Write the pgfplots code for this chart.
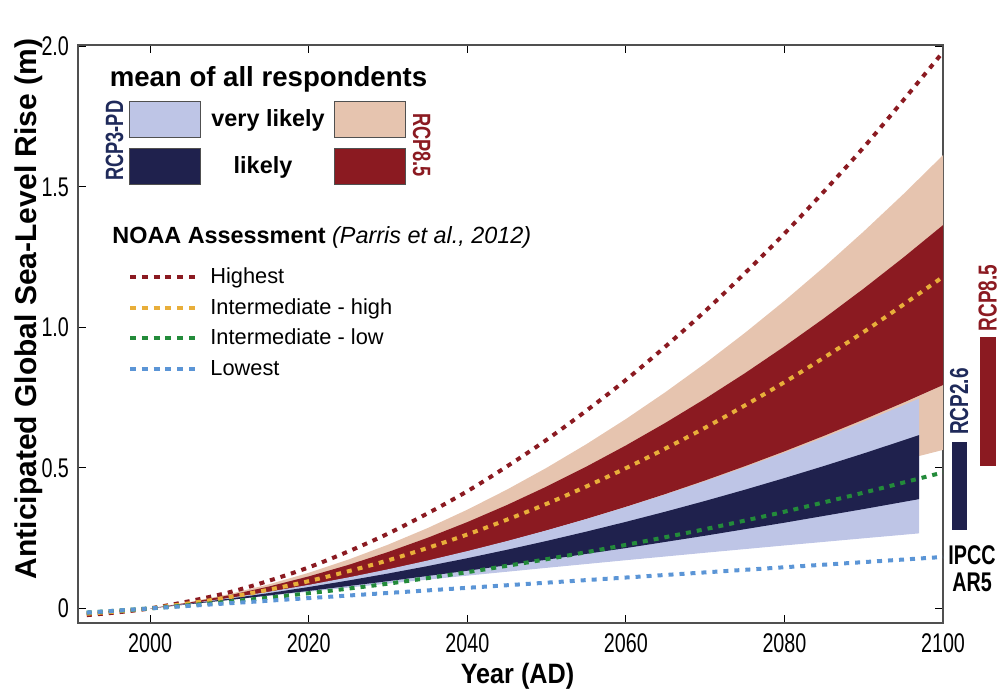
\documentclass[border=0pt]{standalone}
\usepackage{fontspec}
\setmainfont{Liberation Sans}
\newfontfamily\cond{Liberation Sans}[FakeStretch=0.73]
\newfontfamily\semicond{Liberation Sans}[FakeStretch=0.9]
\usepackage{pgfplots}
\pgfplotsset{compat=1.18}
\definecolor{lblue}{HTML}{BEC5E6}
\definecolor{navy}{HTML}{1F214D}
\definecolor{peach}{HTML}{E6C4AF}
\definecolor{dred}{HTML}{8B1A21}
\definecolor{hiC}{HTML}{8B1A21}
\definecolor{ihC}{HTML}{E8AE3A}
\definecolor{ilC}{HTML}{238B3A}
\definecolor{loC}{HTML}{5B95D6}
\definecolor{axC}{HTML}{505050}
\definecolor{navytxt}{HTML}{1F2A5A}
\begin{document}
\begin{tikzpicture}[x=1pt,y=1pt]
\useasboundingbox (-39,-36) rectangle (463,311.5);
\begin{axis}[at={(0,0)}, anchor=south west, scale only axis,
  width=432.5pt, height=289pt,
  xmin=1990.9, xmax=2100, ymin=-0.052, ymax=2.005, clip=false,
  xtick={2000,2020,2040,2060,2080,2100},
  xticklabels={2000,2020,2040,2060,2080,2100},
  ytick={0,0.5,1,1.5,2},
  yticklabels={0,0.5,1.0,1.5,2.0},
  tick align=inside, major tick length=4pt,
  axis line style={axC, line width=0.75pt},
  tick style={black, line width=0.6pt},
  ticklabel style={font=\cond\fontsize{13.5}{15}\selectfont},
  xticklabel style={yshift=-2pt}, yticklabel style={xshift=-1pt},
  dotline/.style={line width=2pt, dash pattern=on 2.5pt off 3pt},
]
% RCP8.5 very likely
\addplot[fill=peach, draw=none] coordinates {
 (2000,0) (2005,0.0225) (2010,0.0511) (2015,0.0858) (2020,0.1266) (2025,0.1736)
 (2030,0.2267) (2035,0.2859) (2040,0.3512) (2045,0.4227) (2050,0.5003) (2055,0.584)
 (2060,0.6738) (2065,0.7698) (2070,0.8719) (2075,0.9801) (2080,1.0944) (2085,1.2149)
 (2090,1.3415) (2095,1.4742) (2100,1.613)
 (2100,0.564) (2095,0.5279) (2090,0.4926) (2080,0.4245) (2070,0.3597) (2060,0.2983)
 (2050,0.2403) (2040,0.1855) (2030,0.1341) (2020,0.0861) (2010,0.0414)} --cycle;
% RCP8.5 likely
\addplot[fill=dred, draw=none] coordinates {
 (2000,0) (2005,0.021) (2010,0.0469) (2015,0.0779) (2020,0.1138) (2025,0.1546)
 (2030,0.2005) (2035,0.2513) (2040,0.307) (2045,0.3678) (2050,0.4335) (2055,0.5042)
 (2060,0.5798) (2065,0.6605) (2070,0.7461) (2075,0.8366) (2080,0.9322) (2085,1.0326)
 (2090,1.1381) (2095,1.2486) (2100,1.364)
 (2100,0.795) (2095,0.7324) (2090,0.6722) (2085,0.6144) (2080,0.559) (2075,0.5061)
 (2070,0.4555) (2065,0.4073) (2060,0.3616) (2055,0.3182) (2050,0.2773) (2045,0.2387)
 (2040,0.2026) (2035,0.1688) (2030,0.1375) (2025,0.1086) (2020,0.082) (2015,0.0579)
 (2010,0.0362) (2005,0.0169)} --cycle;
% RCP3-PD very likely
\addplot[fill=lblue, draw=none] coordinates {
 (2000,0) (2005,0.0175) (2010,0.0372) (2015,0.0593) (2020,0.0836) (2025,0.1102)
 (2030,0.1391) (2035,0.1703) (2040,0.2038) (2045,0.2395) (2050,0.2776) (2055,0.3179)
 (2060,0.3605) (2065,0.4054) (2070,0.4526) (2075,0.5021) (2080,0.5538) (2085,0.6079)
 (2090,0.6643) (2095,0.7229) (2097,0.747)
 (2097,0.267) (2090,0.2495) (2080,0.224) (2070,0.198) (2060,0.1715)
 (2050,0.1443) (2040,0.1166) (2030,0.0883) (2020,0.0595) (2010,0.03)} --cycle;
% RCP3-PD likely
\addplot[fill=navy, draw=none] coordinates {
 (2000,0) (2005,0.0165) (2010,0.0347) (2015,0.0545) (2020,0.076) (2025,0.0992)
 (2030,0.124) (2035,0.1505) (2040,0.1786) (2045,0.2085) (2050,0.2399) (2055,0.2731)
 (2060,0.3079) (2065,0.3443) (2070,0.3824) (2075,0.4222) (2080,0.4637) (2085,0.5068)
 (2090,0.5515) (2095,0.598) (2097,0.617)
 (2097,0.389) (2090,0.3536) (2080,0.305) (2070,0.2587) (2060,0.2147)
 (2050,0.1732) (2040,0.1339) (2030,0.0969) (2020,0.0623) (2010,0.03)} --cycle;
% NOAA scenarios
\addplot[hiC, dotline, smooth] coordinates {
 (1992,-0.024) (2000,0) (2010,0.0575) (2020,0.146) (2030,0.266) (2040,0.417)
 (2050,0.600) (2060,0.813) (2070,1.058) (2080,1.334) (2090,1.641) (2100,1.980)};
\addplot[ihC, dotline, smooth] coordinates {
 (1992,-0.019) (2000,0) (2010,0.040) (2020,0.097) (2030,0.171) (2040,0.263)
 (2050,0.372) (2060,0.499) (2070,0.643) (2080,0.805) (2090,0.984) (2100,1.180)};
\addplot[ilC, dotline, smooth] coordinates {
 (1992,-0.015) (2000,0) (2010,0.024) (2020,0.054) (2030,0.088) (2040,0.129)
 (2050,0.175) (2060,0.226) (2070,0.282) (2080,0.344) (2090,0.412) (2100,0.484)};
\addplot[loC, dotline] coordinates {
 (1992,-0.015) (2000,0) (2050,0.0915) (2100,0.183)};
% IPCC AR5 ranges (outside the axis)
\addplot[fill=navy, draw=none] coordinates {
 (2101.1,0.279) (2103.0,0.279) (2103.0,0.593) (2101.1,0.593)} --cycle;
\addplot[fill=dred, draw=none] coordinates {
 (2104.67,0.507) (2106.63,0.507) (2106.63,0.966) (2104.67,0.966)} --cycle;
\end{axis}
% axis titles
\node[rotate=90, anchor=base, font=\bfseries\fontsize{15}{17}\selectfont] at (-20.5,157) {Anticipated Global Sea-Level Rise (m)};
\node[anchor=base, font=\semicond\bfseries\fontsize{14}{16}\selectfont] at (219.75,-30) {Year (AD)};
% legend: mean of all respondents
\node[anchor=base, font=\bfseries\fontsize{13.8}{16}\selectfont] at (95.25,268.2) {mean of all respondents};
\draw[fill=lblue, draw=axC, line width=0.5pt] (25.65,242.85) rectangle (61.35,260.65);
\draw[fill=navy, draw=axC, line width=0.5pt] (25.65,219.35) rectangle (61.35,237.35);
\draw[fill=peach, draw=axC, line width=0.5pt] (128,242.85) rectangle (163.5,260.65);
\draw[fill=dred, draw=axC, line width=0.5pt] (128,219.35) rectangle (163.5,237.35);
\node[anchor=base, font=\bfseries\fontsize{11.7}{14}\selectfont] at (95,248) {very likely};
\node[anchor=base, font=\bfseries\fontsize{11.7}{14}\selectfont] at (92.5,224.85) {likely};
\node[rotate=90, anchor=base, inner sep=0pt, text=navytxt, font=\cond\bfseries\fontsize{12.5}{14}\selectfont] at (22.5,241.1) {RCP3-PD};
\node[rotate=-90, anchor=base, inner sep=0pt, text=dred, font=\cond\bfseries\fontsize{12.5}{14}\selectfont] at (167.5,239) {RCP8.5};
% legend: NOAA
\node[anchor=base west, inner sep=0pt, font=\fontsize{11.7}{14}\selectfont] at (17,189.85) {\textbf{NOAA Assessment} \textit{(Parris et al., 2012)}};
\draw[hiC, line width=2pt, dash pattern=on 3pt off 2.9pt] (26,173.15) -- (59,173.15);
\draw[ihC, line width=2pt, dash pattern=on 3pt off 2.9pt] (26,157.5) -- (59,157.5);
\draw[ilC, line width=2pt, dash pattern=on 3pt off 2.9pt] (26,142.5) -- (59,142.5);
\draw[loC, line width=2pt, dash pattern=on 3pt off 2.9pt] (26,127) -- (59,127);
\node[anchor=base west, inner sep=0pt, font=\fontsize{10.9}{13}\selectfont] at (66,169.85) {Highest};
\node[anchor=base west, inner sep=0pt, font=\fontsize{10.9}{13}\selectfont] at (66,154.2) {Intermediate - high};
\node[anchor=base west, inner sep=0pt, font=\fontsize{10.9}{13}\selectfont] at (66,139.2) {Intermediate - low};
\node[anchor=base west, inner sep=0pt, font=\fontsize{10.9}{13}\selectfont] at (66,123.7) {Lowest};
% right side labels
\node[rotate=90, anchor=base, inner sep=0pt, text=navytxt, font=\cond\bfseries\fontsize{13}{15}\selectfont] at (445,110.75) {RCP2.6};
\node[rotate=90, anchor=base, inner sep=0pt, text=dred, font=\cond\bfseries\fontsize{13}{15}\selectfont] at (459.3,162.5) {RCP8.5};
\node[anchor=base, inner sep=0pt, font=\cond\bfseries\fontsize{13.5}{15}\selectfont] at (447,29.5) {IPCC};
\node[anchor=base, inner sep=0pt, font=\cond\bfseries\fontsize{13.5}{15}\selectfont] at (447,16) {AR5};
\end{tikzpicture}
\end{document}
